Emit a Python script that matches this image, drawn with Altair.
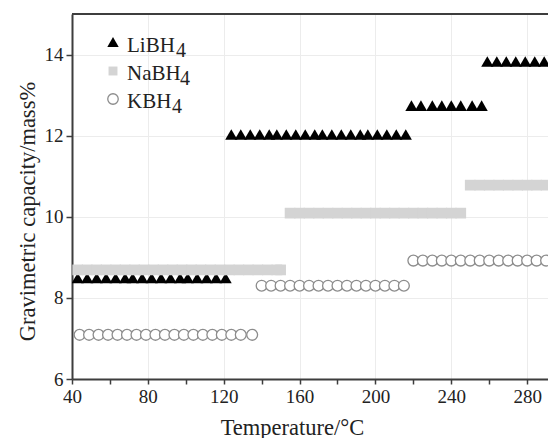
import altair as alt
import pandas as pd

# ---- data ----
li_x1 = [43, 48, 53, 58, 63, 68, 72, 77, 82, 87, 92, 97, 101, 106, 111, 116, 121]
li_y1 = 8.49
li_x2 = [124, 129, 134, 139, 144, 148, 153, 158, 163, 168, 172, 177, 182, 187, 192, 196, 201, 206, 211, 216]
li_y2 = 12.03
li_x3 = [219, 224, 230, 235, 240, 245, 251, 256]
li_y3 = 12.74
li_x4 = [259, 264, 269, 274, 279, 284, 289, 294, 299]
li_y4 = 13.83

na_x1 = [43, 48, 53, 58, 63, 68, 73, 78, 83, 88, 93, 98, 103, 108, 113, 118, 123, 128, 133, 138, 143, 148, 150]
na_y1 = 8.69
na_x2 = [155, 160, 165, 170, 175, 180, 185, 190, 195, 200, 205, 210, 215, 220, 225, 230, 235, 240, 245]
na_y2 = 10.09
na_x3 = [250, 255, 260, 265, 270, 275, 280, 285, 290, 295, 300]
na_y3 = 10.78

k_x1 = [44, 49, 54, 59, 64, 69, 74, 79, 84, 89, 94, 99, 104, 109, 114, 119, 124, 129, 135]
k_y1 = 7.09
k_x2 = [140, 145, 150, 155, 160, 165, 170, 175, 180, 185, 190, 195, 200, 205, 210, 215]
k_y2 = 8.30
k_x3 = [220, 225, 230, 235, 240, 245, 250, 255, 260, 265, 270, 275, 280, 285, 290, 295, 300]
k_y3 = 8.92

x_ticks = [40, 60, 80, 100, 120, 140, 160, 180, 200, 220, 240, 260, 280]
y_ticks = [6, 8, 10, 12, 14]
x_domain = [40, 291]
y_domain = [6, 15]


def build(parts):
    frames = []
    for xs, y in parts:
        frames.append(pd.DataFrame({"t": xs, "c": [y] * len(xs)}))
    return pd.concat(frames, ignore_index=True)


li_df = build([(li_x1, li_y1), (li_x2, li_y2), (li_x3, li_y3), (li_x4, li_y4)])
na_df = build([(na_x1, na_y1), (na_x2, na_y2), (na_x3, na_y3)])
k_df = build([(k_x1, k_y1), (k_x2, k_y2), (k_x3, k_y3)])

W, H = 476, 365
FONT = "Liberation Serif"
AX = "#3d3d3d"

x_enc = alt.X(
    "t:Q",
    scale=alt.Scale(domain=x_domain, nice=False, zero=False),
    axis=alt.Axis(
        title="Temperature/°C",
        values=x_ticks,
        labelExpr="datum.value % 40 == 0 ? datum.label : ''",
        gridOpacity={"condition": {"test": "datum.value % 40 == 0", "value": 1}, "value": 0},
        gridColor="#ececec",
        domainColor=AX,
        domainWidth=2,
        tickColor=AX,
        tickWidth=1.5,
        tickSize=5,
        labelPadding=3,
        labelFont=FONT,
        labelFontSize=19,
        labelColor="#222",
        labelFlush=False,
        titleFont=FONT,
        titleFontSize=22.5,
        titleFontWeight="normal",
        titleColor="#222",
        titleX=220,
        titleY=55,
        titleBaseline="alphabetic",
        titleAlign="center",
    ),
)
y_enc = alt.Y(
    "c:Q",
    scale=alt.Scale(domain=y_domain, nice=False, zero=False),
    axis=alt.Axis(
        title="Gravimetric capacity/mass%",
        values=y_ticks,
        gridColor="#ececec",
        domainColor=AX,
        domainWidth=2,
        tickColor=AX,
        tickWidth=1.5,
        tickSize=6,
        labelPadding=3,
        labelFont=FONT,
        labelFontSize=19,
        labelColor="#222",
        labelFlush=False,
        titleFont=FONT,
        titleFontSize=22.5,
        titleFontWeight="normal",
        titleColor="#222",
        titleX=-38,
        titleY=197,
        titleBaseline="alphabetic",
        titleAlign="center",
        titleAngle=270,
    ),
)

li = alt.Chart(li_df).mark_point(
    shape="triangle-up", filled=True, color="#000", size=150, opacity=1, clip=True
).encode(x=x_enc, y=y_enc)
na = alt.Chart(na_df).mark_square(
    color="#d4d4d4", size=115, opacity=1, clip=True
).encode(x=x_enc, y=y_enc)
k = alt.Chart(k_df).mark_point(
    shape="circle", filled=False, fill="#ffffff", fillOpacity=1, stroke="#8c8c8c",
    strokeWidth=1.3, size=118, opacity=1, clip=True
).encode(x=x_enc, y=y_enc)

one = pd.DataFrame({"a": [0]})
top = alt.Chart(one).mark_rule(color=AX, strokeWidth=2).encode(
    x=alt.value(0), x2=alt.value(W), y=alt.value(0)
)

leg = [
    alt.Chart(one).mark_point(shape="triangle-up", filled=True, color="#000", size=130, opacity=1).encode(
        x=alt.value(41), y=alt.value(28)),
    alt.Chart(one).mark_square(color="#d4d4d4", size=80, opacity=1).encode(
        x=alt.value(41), y=alt.value(57)),
    alt.Chart(one).mark_point(shape="circle", filled=False, stroke="#8c8c8c", strokeWidth=1.3, size=110, opacity=1).encode(
        x=alt.value(41), y=alt.value(85)),
]
legend_names = ["LiBH", "NaBH", "KBH"]
legend_base = [38, 66, 94]
sub_x = [104, 108, 100]
for name, b, sx in zip(legend_names, legend_base, sub_x):
    leg.append(alt.Chart(one).mark_text(
        text=name, align="left", baseline="alphabetic", font=FONT, fontSize=21, color="#222"
    ).encode(x=alt.value(55), y=alt.value(b)))
    leg.append(alt.Chart(one).mark_text(
        text="4", align="left", baseline="alphabetic", font=FONT, fontSize=20, color="#222"
    ).encode(x=alt.value(sx), y=alt.value(b + 5)))

chart = alt.layer(li, na, k, top, *leg).properties(
    width=W, height=H,
    autosize=alt.AutoSizeParams(type="none"),
    padding={"left": 64, "top": 6, "right": 0, "bottom": 59},
).configure_view(stroke=None)

chart.save("out.html", embed_options={"renderer": "svg", "actions": False})
